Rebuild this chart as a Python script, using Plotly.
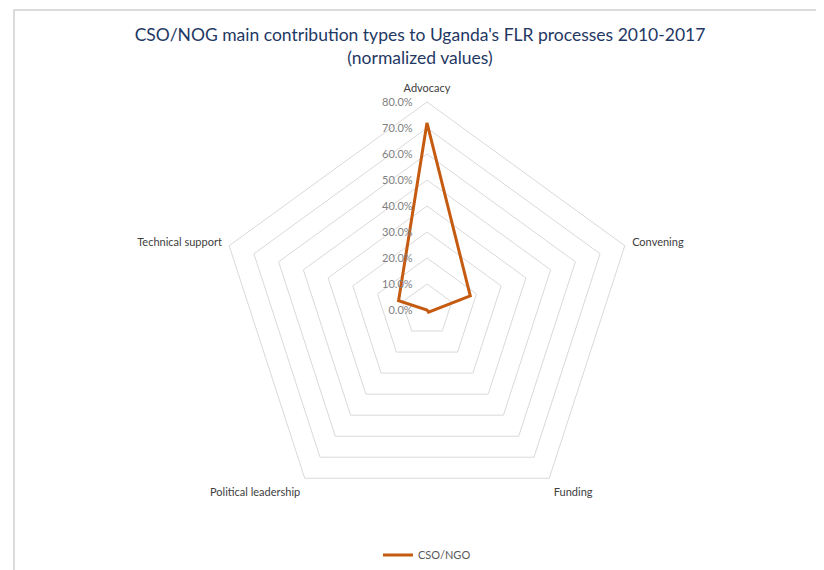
import plotly.graph_objects as go

categories = ["Advocacy", "Convening", "Funding", "Political leadership", "Technical support"]
cso_ngo = [0.72, 0.175, 0.01, 0.0, 0.115]
radial_ticks = [0.0, 0.1, 0.2, 0.3, 0.4, 0.5, 0.6, 0.7, 0.8]
radial_labels = ["0.0%", "10.0%", "20.0%", "30.0%", "40.0%", "50.0%", "60.0%", "70.0%", "80.0%"]

W, H = 824, 570
OFF = 8  # page body margin offset
cx, cy, R = 427 - OFF, 310 - OFF, 208

fig = go.Figure()
fig.add_trace(go.Scatterpolar(
    r=cso_ngo + [cso_ngo[0]],
    theta=categories + [categories[0]],
    mode="lines",
    name="CSO/NGO",
    line=dict(color="#C55A11", width=3),
))

fig.update_layout(
    width=W, height=H,
    margin=dict(l=0, r=0, t=0, b=0),
    paper_bgcolor="white",
    font=dict(family="Lato, Open Sans, sans-serif", color="#595959", size=11),
    title=dict(
        text="CSO/NOG main contribution types to Uganda's FLR processes 2010-2017<br>(normalized values)",
        x=(420 - OFF) / W, xanchor="center", y=1 - (41 - OFF) / H, yanchor="middle",
        font=dict(family="Lato, Open Sans, sans-serif", size=17.5, color="#1F3864"),
    ),
    polar=dict(
        domain=dict(x=[(cx - R) / W, (cx + R) / W], y=[(H - cy - R) / H, (H - cy + R) / H]),
        gridshape="linear",
        bgcolor="white",
        radialaxis=dict(
            range=[0, 0.8],
            tickvals=radial_ticks,
            ticktext=radial_labels,
            angle=90,
            tickangle=90,
            side="counterclockwise",
            showline=False,
            gridcolor="#D9D9D9",
            gridwidth=1,
            ticks="outside",
            ticklen=10,
            tickcolor="rgba(0,0,0,0)",
            tickfont=dict(size=11, color="#7F7F7F"),
        ),
        angularaxis=dict(
            direction="clockwise",
            rotation=90,
            showgrid=False,
            showline=True,
            linecolor="#D9D9D9",
            ticks="outside",
            ticklen=5,
            tickcolor="rgba(0,0,0,0)",
            tickfont=dict(size=11, color="#404040"),
        ),
    ),
    showlegend=True,
    legend=dict(
        orientation="h", x=(427 - OFF) / W, xanchor="center", y=1 - (555 - OFF) / H, yanchor="middle",
        font=dict(size=11, color="#595959"),
    ),
    shapes=[dict(
        type="rect", xref="paper", yref="paper",
        x0=(14 - OFF) / W, x1=1.02, y0=-0.05, y1=1 - (10 - OFF) / H,
        line=dict(color="#D0D0D0", width=1.5),
        layer="below",
    )],
)

fig.write_html("out.html")
